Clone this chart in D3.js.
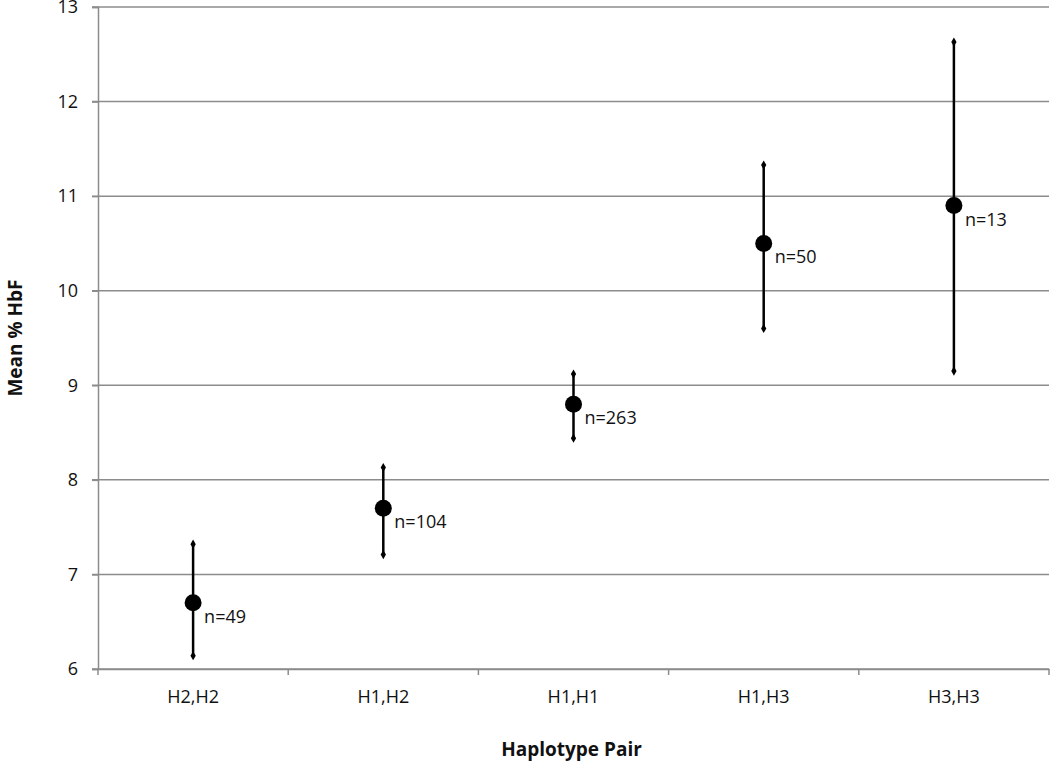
<!DOCTYPE html>
<html><head><meta charset="utf-8">
<script src="https://cdn.jsdelivr.net/npm/d3@7"></script>
<style>body{margin:0;background:#fff;} svg{display:block;}</style>
</head><body>
<svg id="c" width="1050" height="762"></svg>
<script>
const categories = ["H2,H2","H1,H2","H1,H1","H1,H3","H3,H3"];
const means = [6.70, 7.70, 8.80, 10.50, 10.90];
const upper = [7.32, 8.13, 9.12, 11.33, 12.63];
const lower = [6.14, 7.21, 8.44, 9.60, 9.15];
const nLabels = ["n=49","n=104","n=263","n=50","n=13"];
const yTicks = [6,7,8,9,10,11,12,13];

const svg = d3.select("#c");
const L = 98, R = 1049, T = 7, B = 669;
const font = "'Open Sans', 'Liberation Sans', sans-serif";
const x = d3.scaleBand().domain(categories).range([L, R]);
const y = d3.scaleLinear().domain([6, 13]).range([B, T]);

// gridlines
svg.append("g").selectAll("line").data(yTicks).join("line")
  .attr("x1", L - 6).attr("x2", R).attr("y1", d => y(d)).attr("y2", d => y(d))
  .attr("stroke", "#8c8c8c").attr("stroke-width", 1.5);

// y axis
const yAxis = svg.append("g").attr("transform", `translate(${L},0)`)
  .call(d3.axisLeft(y).tickValues(yTicks).tickFormat(d3.format("d")).tickSize(6).tickPadding(14));
yAxis.select(".domain").attr("stroke", "#8c8c8c").attr("stroke-width", 1.5);
yAxis.selectAll(".tick line").attr("stroke", "#8c8c8c").attr("stroke-width", 1.5);
yAxis.selectAll("text").attr("font-family", font).attr("font-size", 18).attr("fill", "#111");

// x axis
const xAxis = svg.append("g").attr("transform", `translate(0,${B})`)
  .call(d3.axisBottom(x).tickSize(0).tickPadding(21));
xAxis.select(".domain").attr("stroke", "#8c8c8c").attr("stroke-width", 1.5);
xAxis.selectAll("text").attr("font-family", font).attr("font-size", 18).attr("fill", "#111");
// boundary ticks
const bounds = categories.map(c => x(c)).concat([R]);
xAxis.append("g").selectAll("line").data(bounds).join("line")
  .attr("x1", d => d).attr("x2", d => d).attr("y1", 0).attr("y2", 6)
  .attr("stroke", "#8c8c8c").attr("stroke-width", 1.5);

const cx = c => x(c) + x.bandwidth() / 2;

// error bars
const g = svg.append("g");
g.selectAll("line.err").data(categories).join("line").attr("class", "err")
  .attr("x1", cx).attr("x2", cx)
  .attr("y1", (d, i) => y(upper[i])).attr("y2", (d, i) => y(lower[i]))
  .attr("stroke", "#000").attr("stroke-width", 2.5);
const diamond = d3.symbol().type(d3.symbolDiamond).size(24);
const ends = [];
categories.forEach((c, i) => { ends.push([c, upper[i]]); ends.push([c, lower[i]]); });
g.selectAll("path.end").data(ends).join("path").attr("class", "end")
  .attr("d", diamond)
  .attr("transform", d => `translate(${cx(d[0])},${y(d[1])})`)
  .attr("fill", "#000");

// points
g.selectAll("circle").data(categories).join("circle")
  .attr("cx", cx).attr("cy", (d, i) => y(means[i])).attr("r", 8.5).attr("fill", "#000");

// labels
g.selectAll("text.n").data(categories).join("text").attr("class", "n")
  .attr("x", d => cx(d) + 11).attr("y", (d, i) => y(means[i]) + 20)
  .attr("font-family", font).attr("font-size", 18).attr("fill", "#111")
  .text((d, i) => nLabels[i]);

// axis titles
svg.append("text").attr("x", (L + R) / 2 - 2).attr("y", 756)
  .attr("text-anchor", "middle").attr("font-family", font).attr("font-weight", "bold")
  .attr("font-size", 19).attr("fill", "#111").text("Haplotype Pair");
svg.append("text").attr("transform", `translate(22,${(T + B) / 2}) rotate(-90)`)
  .attr("text-anchor", "middle").attr("font-family", font).attr("font-weight", "bold")
  .attr("font-size", 19).attr("fill", "#111").text("Mean % HbF");
</script>
</body></html>
